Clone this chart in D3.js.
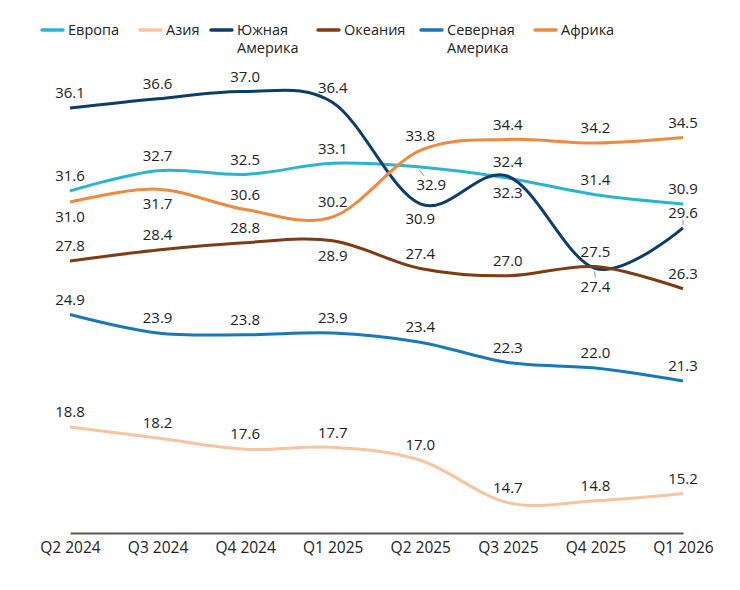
<!DOCTYPE html>
<html>
<head>
<meta charset="utf-8">
<script src="https://cdn.jsdelivr.net/npm/d3@7"></script>
<style>
  body { margin: 0; background: #fff; }
  text { font-family: "Open Sans", "Noto Sans", sans-serif; fill: #222; }
</style>
</head>
<body>
<div id="chart"></div>
<script>
// data
var quarters = ["Q2 2024", "Q3 2024", "Q4 2024", "Q1 2025", "Q2 2025", "Q3 2025", "Q4 2025", "Q1 2026"];
var seriesNames = ["Европа", "Азия", "Южная Америка", "Океания", "Северная Америка", "Африка"];
var europe   = [31.6, 32.7, 32.5, 33.1, 32.9, 32.3, 31.4, 30.9];
var asia     = [18.8, 18.2, 17.6, 17.7, 17.0, 14.7, 14.8, 15.2];
var southAm  = [36.1, 36.6, 37.0, 36.4, 30.9, 32.4, 27.4, 29.6];
var oceania  = [27.8, 28.4, 28.8, 28.9, 27.4, 27.0, 27.5, 26.3];
var northAm  = [24.9, 23.9, 23.8, 23.9, 23.4, 22.3, 22.0, 21.3];
var africa   = [31.0, 31.7, 30.6, 30.2, 33.8, 34.4, 34.2, 34.5];

var colors = ["#2bb4cf", "#f7c3a0", "#0d3d6c", "#7e3c12", "#1778bb", "#ee8a3e"];
// label placement: a = above, b = below, L = below with leader, t = above with tick
var placement = [
  ["a","a","a","a","L","b","a","a"],
  ["a","a","a","a","a","a","a","a"],
  ["a","a","a","a","b","a","L","t"],
  ["a","a","a","b","a","a","a","a"],
  ["a","a","a","a","a","a","a","a"],
  ["b","b","a","a","a","a","a","a"]
];

var allValues = [europe, asia, southAm, oceania, northAm, africa];
var series = seriesNames.map(function(n, i) {
  return { name: n, values: allValues[i], color: colors[i], pos: placement[i] };
});

var svgWidth = 740, svgHeight = 590;
var svg = d3.select("#chart").append("svg")
  .attr("width", svgWidth).attr("height", svgHeight);

var x = d3.scalePoint().domain(quarters).range([70, 683]);
var y = d3.scaleLinear().domain([13, 38]).range([534, 73]);

// axis
var axis = svg.append("g").attr("transform", "translate(0,533)")
  .call(d3.axisBottom(x).tickSize(0).tickPadding(9));
axis.select(".domain").attr("stroke", "#595959").attr("stroke-width", 2);
axis.selectAll("text").style("font-size", "15.5px").style("fill", "#222")
  .style("font-family", "'Open Sans', sans-serif");

var line = d3.line()
  .x(function(d, i) { return x(quarters[i]); })
  .y(function(d) { return y(d); })
  .curve(d3.curveCatmullRom.alpha(0));

// lines
svg.selectAll(".series").data(series).enter().append("path")
  .attr("class", "series")
  .attr("fill", "none")
  .attr("stroke", function(d) { return d.color; })
  .attr("stroke-width", 3)
  .attr("d", function(d) { return line(d.values); });

// labels
series.forEach(function(s) {
  s.values.forEach(function(v, i) {
    var px = x(quarters[i]), py = y(v), p = s.pos[i];
    var lx = px, ly = py - 15;
    if (p === "b") ly = py + 15;
    if (p === "L") {
      ly = py + 18;
      if (s.name === "Европа") lx = px + 11;
      svg.append("line")
        .attr("x1", px - 1).attr("y1", py + 3)
        .attr("x2", lx === px ? px : px + 4).attr("y2", py + 9)
        .attr("stroke", "#777").attr("stroke-width", 0.8);
    }
    if (p === "t") {
      svg.append("line")
        .attr("x1", px).attr("y1", py - 3).attr("x2", px).attr("y2", py - 8)
        .attr("stroke", "#777").attr("stroke-width", 0.8);
    }
    svg.append("text")
      .attr("x", lx).attr("y", ly)
      .attr("dy", "0.35em")
      .attr("text-anchor", "middle")
      .style("font-size", "15px")
      .text(v.toFixed(1));
  });
});

// legend
var legendX = [42, 140, 211, 318, 421, 535];
var legend = svg.selectAll(".legend").data(series).enter().append("g")
  .attr("class", "legend")
  .attr("transform", function(d, i) { return "translate(" + legendX[i] + ",30)"; });
legend.append("line")
  .attr("x1", 0).attr("x2", 21).attr("y1", 0).attr("y2", 0)
  .attr("stroke", function(d) { return d.color; })
  .attr("stroke-width", 3.5).attr("stroke-linecap", "round");
legend.each(function(d) {
  var words = d.name.split(" ");
  var t = d3.select(this).append("text")
    .attr("x", 26).attr("y", 0)
    .style("font-size", "14.5px");
  words.forEach(function(w, k) {
    t.append("tspan").attr("x", 26).attr("dy", k === 0 ? "0.35em" : "1.25em").text(w);
  });
});
</script>
</body>
</html>
